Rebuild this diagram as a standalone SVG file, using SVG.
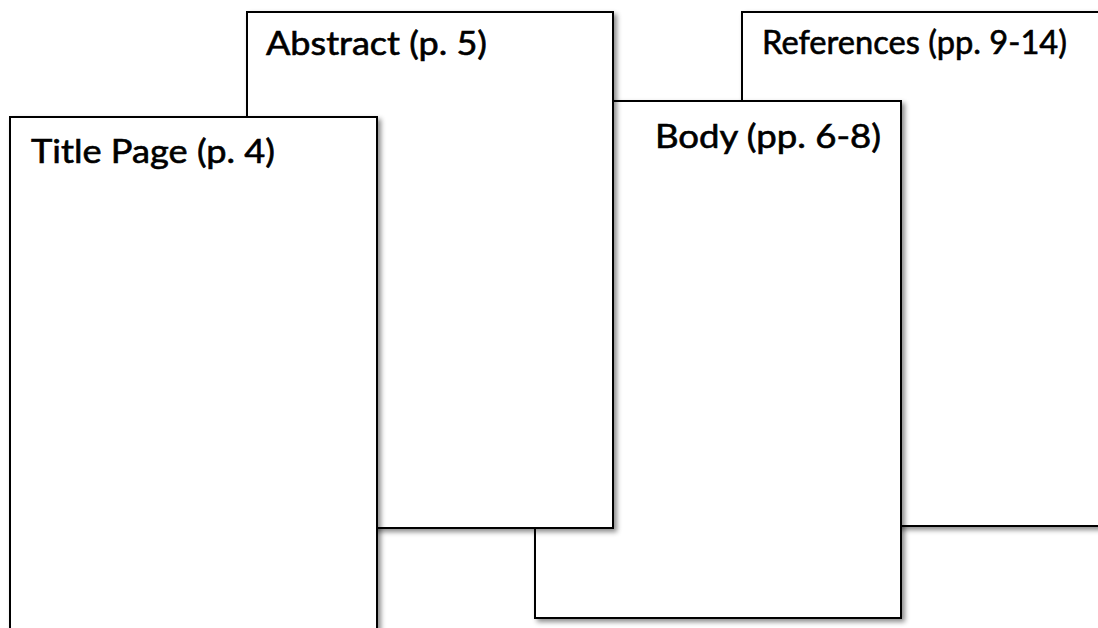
<svg xmlns="http://www.w3.org/2000/svg" width="1098" height="628" viewBox="0 0 1098 628">
<defs>
<filter id="sh" x="-5%" y="-5%" width="115%" height="115%">
<feDropShadow dx="3" dy="3" stdDeviation="2.5" flood-color="#000" flood-opacity="0.45"/>
</filter>
<style>
.page{fill:#fff;stroke:#000;stroke-width:2;filter:url(#sh)}
.lbl{font-family:Lato,"Open Sans","Liberation Sans",sans-serif;font-size:32px;fill:#000;stroke:#000;stroke-width:0.6}
</style>
</defs>
<rect width="1098" height="628" fill="#fff"/>
<g id="references">
<rect class="page" x="742" y="12" width="367" height="514"/>
<text class="lbl" x="762" y="54" textLength="305" lengthAdjust="spacingAndGlyphs">References (pp. 9-14)</text>
</g>
<g id="body">
<rect class="page" x="535" y="101" width="366" height="517"/>
<text class="lbl" x="655" y="148" textLength="226" lengthAdjust="spacingAndGlyphs">Body (pp. 6-8)</text>
</g>
<g id="abstract">
<rect class="page" x="247" y="12" width="366" height="516"/>
<text class="lbl" x="266" y="55" textLength="221" lengthAdjust="spacingAndGlyphs">Abstract (p. 5)</text>
</g>
<g id="title">
<rect class="page" x="10" y="117" width="367" height="530"/>
<text class="lbl" x="31" y="163" textLength="244" lengthAdjust="spacingAndGlyphs">Title Page (p. 4)</text>
</g>
<g id="connectors"/>
</svg>
